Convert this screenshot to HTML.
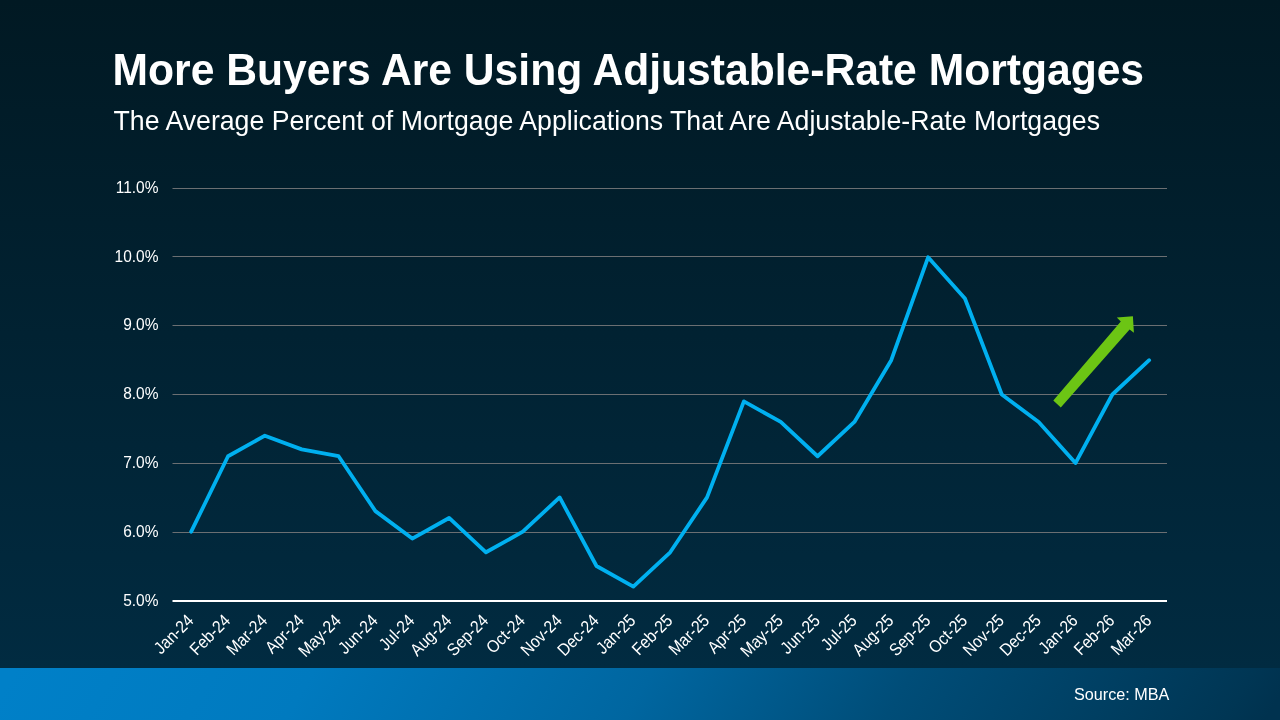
<!DOCTYPE html>
<html><head><meta charset="utf-8"><style>
html,body{margin:0;padding:0;}
body{width:1280px;height:720px;overflow:hidden;position:relative;font-family:"Liberation Sans",sans-serif;
background:linear-gradient(180deg,#011923 0px,#012b41 668px);}
.band{position:absolute;left:0;top:668px;width:1280px;height:52px;background:linear-gradient(120deg,#0080c8 13px,#007abf 273px,#0066a0 567px,#004d78 792px,#003654 1087px,#00324f 1122px);}
svg{position:absolute;left:0;top:0;will-change:transform;}
</style></head><body>
<div class="band"></div>
<svg width="1280" height="720" viewBox="0 0 1280 720" font-family="Liberation Sans" fill="#fff">
<text x="112.6" y="85" font-size="42.62" font-weight="bold" transform="translate(0,85) scale(1,1.04) translate(0,-85)">More Buyers Are Using Adjustable-Rate Mortgages</text>
<text x="113.5" y="130" font-size="26.68" transform="translate(0,130) scale(1,1.06) translate(0,-130)">The Average Percent of Mortgage Applications That Are Adjustable-Rate Mortgages</text>
<g stroke="#6b6f72" stroke-width="1">
<line x1="172.5" y1="532.5" x2="1167.0" y2="532.5"/>
<line x1="172.5" y1="463.5" x2="1167.0" y2="463.5"/>
<line x1="172.5" y1="394.5" x2="1167.0" y2="394.5"/>
<line x1="172.5" y1="325.5" x2="1167.0" y2="325.5"/>
<line x1="172.5" y1="256.5" x2="1167.0" y2="256.5"/>
<line x1="172.5" y1="188.5" x2="1167.0" y2="188.5"/>
</g>
<line x1="172.5" y1="601" x2="1167.0" y2="601" stroke="#ffffff" stroke-width="2"/>
<g font-size="15.5">
<text transform="translate(158.5,605.63) scale(1,1.1)" text-anchor="end">5.0%</text>
<text transform="translate(158.5,536.83) scale(1,1.1)" text-anchor="end">6.0%</text>
<text transform="translate(158.5,468.03) scale(1,1.1)" text-anchor="end">7.0%</text>
<text transform="translate(158.5,399.23) scale(1,1.1)" text-anchor="end">8.0%</text>
<text transform="translate(158.5,330.43) scale(1,1.1)" text-anchor="end">9.0%</text>
<text transform="translate(158.5,261.63) scale(1,1.1)" text-anchor="end">10.0%</text>
<text transform="translate(158.5,192.83) scale(1,1.1)" text-anchor="end">11.0%</text>
</g>
<g font-size="15.5">
<text transform="translate(194.6,621.6) rotate(-45) scale(1,1.12)" text-anchor="end">Jan-24</text>
<text transform="translate(231.4,621.6) rotate(-45) scale(1,1.12)" text-anchor="end">Feb-24</text>
<text transform="translate(268.3,621.6) rotate(-45) scale(1,1.12)" text-anchor="end">Mar-24</text>
<text transform="translate(305.1,621.6) rotate(-45) scale(1,1.12)" text-anchor="end">Apr-24</text>
<text transform="translate(342.0,621.6) rotate(-45) scale(1,1.12)" text-anchor="end">May-24</text>
<text transform="translate(378.8,621.6) rotate(-45) scale(1,1.12)" text-anchor="end">Jun-24</text>
<text transform="translate(415.7,621.6) rotate(-45) scale(1,1.12)" text-anchor="end">Jul-24</text>
<text transform="translate(452.5,621.6) rotate(-45) scale(1,1.12)" text-anchor="end">Aug-24</text>
<text transform="translate(489.4,621.6) rotate(-45) scale(1,1.12)" text-anchor="end">Sep-24</text>
<text transform="translate(526.2,621.6) rotate(-45) scale(1,1.12)" text-anchor="end">Oct-24</text>
<text transform="translate(563.0,621.6) rotate(-45) scale(1,1.12)" text-anchor="end">Nov-24</text>
<text transform="translate(599.9,621.6) rotate(-45) scale(1,1.12)" text-anchor="end">Dec-24</text>
<text transform="translate(636.7,621.6) rotate(-45) scale(1,1.12)" text-anchor="end">Jan-25</text>
<text transform="translate(673.6,621.6) rotate(-45) scale(1,1.12)" text-anchor="end">Feb-25</text>
<text transform="translate(710.4,621.6) rotate(-45) scale(1,1.12)" text-anchor="end">Mar-25</text>
<text transform="translate(747.3,621.6) rotate(-45) scale(1,1.12)" text-anchor="end">Apr-25</text>
<text transform="translate(784.1,621.6) rotate(-45) scale(1,1.12)" text-anchor="end">May-25</text>
<text transform="translate(821.0,621.6) rotate(-45) scale(1,1.12)" text-anchor="end">Jun-25</text>
<text transform="translate(857.8,621.6) rotate(-45) scale(1,1.12)" text-anchor="end">Jul-25</text>
<text transform="translate(894.7,621.6) rotate(-45) scale(1,1.12)" text-anchor="end">Aug-25</text>
<text transform="translate(931.5,621.6) rotate(-45) scale(1,1.12)" text-anchor="end">Sep-25</text>
<text transform="translate(968.3,621.6) rotate(-45) scale(1,1.12)" text-anchor="end">Oct-25</text>
<text transform="translate(1005.2,621.6) rotate(-45) scale(1,1.12)" text-anchor="end">Nov-25</text>
<text transform="translate(1042.0,621.6) rotate(-45) scale(1,1.12)" text-anchor="end">Dec-25</text>
<text transform="translate(1078.9,621.6) rotate(-45) scale(1,1.12)" text-anchor="end">Jan-26</text>
<text transform="translate(1115.7,621.6) rotate(-45) scale(1,1.12)" text-anchor="end">Feb-26</text>
<text transform="translate(1152.6,621.6) rotate(-45) scale(1,1.12)" text-anchor="end">Mar-26</text>
</g>
<polyline points="191.20,531.70 228.04,456.24 264.89,435.66 301.74,449.38 338.58,456.24 375.42,511.12 412.27,538.56 449.11,517.98 485.96,552.28 522.81,531.70 559.65,497.40 596.49,566.00 633.34,586.58 670.18,552.28 707.03,497.40 743.88,401.36 780.72,421.94 817.57,456.24 854.41,421.94 891.25,360.20 928.10,257.30 964.94,298.46 1001.79,394.50 1038.63,421.94 1075.48,463.10 1112.33,394.50 1149.17,360.20" fill="none" stroke="#00b0f0" stroke-width="3.8" stroke-linejoin="round" stroke-linecap="round"/>
<polygon points="1053.3,400.6 1060.8,407.6 1129.6,329.6 1133.9,332.7 1132.9,316.25 1116.8,317.5 1120.8,321.5" fill="#6cc514"/>
<text x="1074" y="700.3" font-size="16.2">Source: MBA</text>
</svg>
</body></html>
